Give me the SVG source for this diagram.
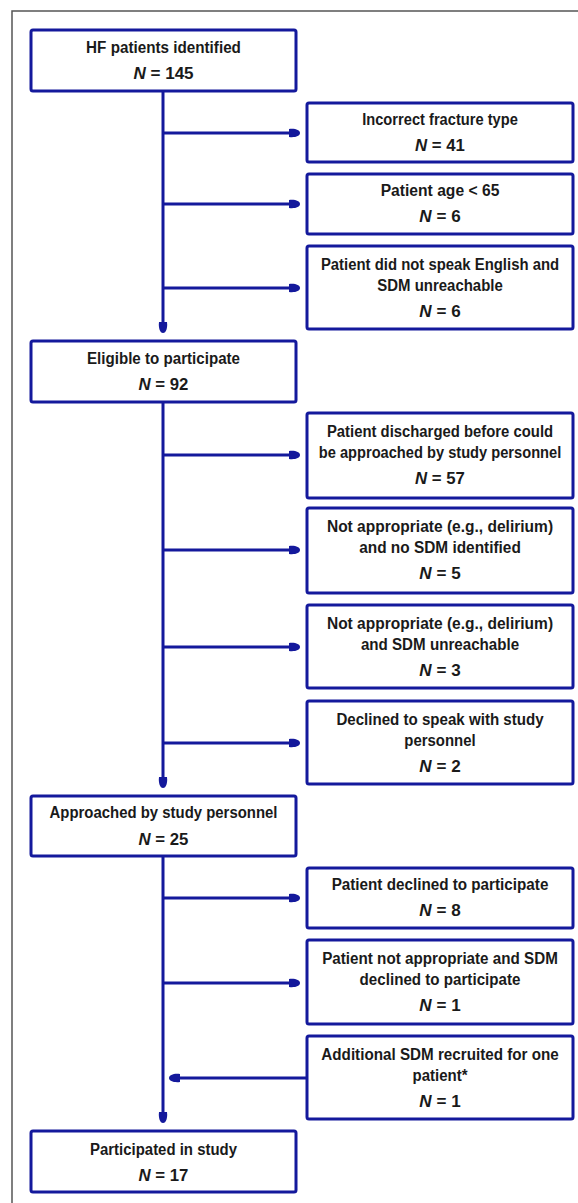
<svg xmlns="http://www.w3.org/2000/svg" width="578" height="1203" viewBox="0 0 578 1203">
<style>
.box{fill:#fff;stroke:#14199c;stroke-width:3}
.t{font-family:"Liberation Sans",Arial,sans-serif;font-weight:bold;font-size:17px;fill:#1a1a1a;text-anchor:middle}
.n{font-style:italic}
.c{fill:none;stroke:#14199c;stroke-width:3}
.frame{fill:none;stroke:#555;stroke-width:1.5}
</style>
<defs>
<marker id="ah" markerUnits="userSpaceOnUse" markerWidth="14" markerHeight="12" viewBox="-12 -6 14 12" refX="0" refY="0" orient="auto">
<path d="M-10,-4 C-4,-4.8 1,-3 1,0 C1,3 -4,4.8 -10,4 Z" fill="#14199c"/>
</marker>
</defs>
<rect x="0" y="0" width="578" height="1203" fill="#fff"/>
<path class="frame" d="M12,1203 V11 H578"/>
<g id="connectors">
<path class="c" d="M163,91 V332" marker-end="url(#ah)"/>
<path class="c" d="M163,402 V787" marker-end="url(#ah)"/>
<path class="c" d="M163,856 V1122" marker-end="url(#ah)"/>
<path class="c" d="M163,133 H299" marker-end="url(#ah)"/>
<path class="c" d="M163,204 H299" marker-end="url(#ah)"/>
<path class="c" d="M163,288 H299" marker-end="url(#ah)"/>
<path class="c" d="M163,455 H299" marker-end="url(#ah)"/>
<path class="c" d="M163,550 H299" marker-end="url(#ah)"/>
<path class="c" d="M163,647 H299" marker-end="url(#ah)"/>
<path class="c" d="M163,743 H299" marker-end="url(#ah)"/>
<path class="c" d="M163,898 H299" marker-end="url(#ah)"/>
<path class="c" d="M163,983 H299" marker-end="url(#ah)"/>
<path class="c" d="M307,1078 H170" marker-end="url(#ah)"/>
</g>
<g id="hf">
<rect class="box" x="31" y="30" width="265" height="61" rx="2"/>
<g transform="translate(163.5 0) scale(0.86 1)">
<text class="t" x="0" y="53" textLength="180" lengthAdjust="spacingAndGlyphs">HF patients identified</text>
<text class="t" x="0" y="79" textLength="70" lengthAdjust="spacingAndGlyphs"><tspan class="n">N</tspan> = 145</text>
</g>
</g>
<g id="fracture">
<rect class="box" x="307" y="103" width="266" height="59" rx="2"/>
<g transform="translate(440 0) scale(0.86 1)">
<text class="t" x="0" y="125" textLength="181" lengthAdjust="spacingAndGlyphs">Incorrect fracture type</text>
<text class="t" x="0" y="151" textLength="58" lengthAdjust="spacingAndGlyphs"><tspan class="n">N</tspan> = 41</text>
</g>
</g>
<g id="age">
<rect class="box" x="307" y="174" width="266" height="60" rx="2"/>
<g transform="translate(440 0) scale(0.86 1)">
<text class="t" x="0" y="196" textLength="138" lengthAdjust="spacingAndGlyphs">Patient age &lt; 65</text>
<text class="t" x="0" y="222" textLength="48" lengthAdjust="spacingAndGlyphs"><tspan class="n">N</tspan> = 6</text>
</g>
</g>
<g id="english">
<rect class="box" x="307" y="246" width="266" height="83" rx="2"/>
<g transform="translate(440 0) scale(0.86 1)">
<text class="t" x="0" y="270" textLength="277" lengthAdjust="spacingAndGlyphs">Patient did not speak English and</text>
<text class="t" x="0" y="291" textLength="146" lengthAdjust="spacingAndGlyphs">SDM unreachable</text>
<text class="t" x="0" y="317" textLength="48" lengthAdjust="spacingAndGlyphs"><tspan class="n">N</tspan> = 6</text>
</g>
</g>
<g id="eligible">
<rect class="box" x="31" y="341" width="265" height="61" rx="2"/>
<g transform="translate(163.5 0) scale(0.86 1)">
<text class="t" x="0" y="364" textLength="178" lengthAdjust="spacingAndGlyphs">Eligible to participate</text>
<text class="t" x="0" y="390" textLength="58" lengthAdjust="spacingAndGlyphs"><tspan class="n">N</tspan> = 92</text>
</g>
</g>
<g id="discharged">
<rect class="box" x="307" y="413" width="266" height="85" rx="2"/>
<g transform="translate(440 0) scale(0.86 1)">
<text class="t" x="0" y="437" textLength="263" lengthAdjust="spacingAndGlyphs">Patient discharged before could</text>
<text class="t" x="0" y="458" textLength="282" lengthAdjust="spacingAndGlyphs">be approached by study personnel</text>
<text class="t" x="0" y="484" textLength="58" lengthAdjust="spacingAndGlyphs"><tspan class="n">N</tspan> = 57</text>
</g>
</g>
<g id="nosdm">
<rect class="box" x="307" y="508" width="266" height="85" rx="2"/>
<g transform="translate(440 0) scale(0.86 1)">
<text class="t" x="0" y="532" textLength="263" lengthAdjust="spacingAndGlyphs">Not appropriate (e.g., delirium)</text>
<text class="t" x="0" y="553" textLength="188" lengthAdjust="spacingAndGlyphs">and no SDM identified</text>
<text class="t" x="0" y="579" textLength="48" lengthAdjust="spacingAndGlyphs"><tspan class="n">N</tspan> = 5</text>
</g>
</g>
<g id="sdmunreach">
<rect class="box" x="307" y="605" width="266" height="83" rx="2"/>
<g transform="translate(440 0) scale(0.86 1)">
<text class="t" x="0" y="629" textLength="263" lengthAdjust="spacingAndGlyphs">Not appropriate (e.g., delirium)</text>
<text class="t" x="0" y="650" textLength="184" lengthAdjust="spacingAndGlyphs">and SDM unreachable</text>
<text class="t" x="0" y="676" textLength="48" lengthAdjust="spacingAndGlyphs"><tspan class="n">N</tspan> = 3</text>
</g>
</g>
<g id="declinedspeak">
<rect class="box" x="307" y="701" width="266" height="83" rx="2"/>
<g transform="translate(440 0) scale(0.86 1)">
<text class="t" x="0" y="725" textLength="241" lengthAdjust="spacingAndGlyphs">Declined to speak with study</text>
<text class="t" x="0" y="746" textLength="83" lengthAdjust="spacingAndGlyphs">personnel</text>
<text class="t" x="0" y="772" textLength="48" lengthAdjust="spacingAndGlyphs"><tspan class="n">N</tspan> = 2</text>
</g>
</g>
<g id="approached">
<rect class="box" x="31" y="796" width="265" height="60" rx="2"/>
<g transform="translate(163.5 0) scale(0.86 1)">
<text class="t" x="0" y="818" textLength="265" lengthAdjust="spacingAndGlyphs">Approached by study personnel</text>
<text class="t" x="0" y="845" textLength="58" lengthAdjust="spacingAndGlyphs"><tspan class="n">N</tspan> = 25</text>
</g>
</g>
<g id="patdeclined">
<rect class="box" x="307" y="868" width="266" height="60" rx="2"/>
<g transform="translate(440 0) scale(0.86 1)">
<text class="t" x="0" y="890" textLength="252" lengthAdjust="spacingAndGlyphs">Patient declined to participate</text>
<text class="t" x="0" y="916" textLength="48" lengthAdjust="spacingAndGlyphs"><tspan class="n">N</tspan> = 8</text>
</g>
</g>
<g id="sdmdeclined">
<rect class="box" x="307" y="940" width="266" height="84" rx="2"/>
<g transform="translate(440 0) scale(0.86 1)">
<text class="t" x="0" y="964" textLength="274" lengthAdjust="spacingAndGlyphs">Patient not appropriate and SDM</text>
<text class="t" x="0" y="985" textLength="187" lengthAdjust="spacingAndGlyphs">declined to participate</text>
<text class="t" x="0" y="1011" textLength="48" lengthAdjust="spacingAndGlyphs"><tspan class="n">N</tspan> = 1</text>
</g>
</g>
<g id="additional">
<rect class="box" x="307" y="1036" width="266" height="83" rx="2"/>
<g transform="translate(440 0) scale(0.86 1)">
<text class="t" x="0" y="1060" textLength="276" lengthAdjust="spacingAndGlyphs">Additional SDM recruited for one</text>
<text class="t" x="0" y="1081" textLength="64" lengthAdjust="spacingAndGlyphs">patient*</text>
<text class="t" x="0" y="1107" textLength="48" lengthAdjust="spacingAndGlyphs"><tspan class="n">N</tspan> = 1</text>
</g>
</g>
<g id="participated">
<rect class="box" x="31" y="1131" width="265" height="61" rx="2"/>
<g transform="translate(163.5 0) scale(0.86 1)">
<text class="t" x="0" y="1155" textLength="171" lengthAdjust="spacingAndGlyphs">Participated in study</text>
<text class="t" x="0" y="1181" textLength="58" lengthAdjust="spacingAndGlyphs"><tspan class="n">N</tspan> = 17</text>
</g>
</g>
</svg>
